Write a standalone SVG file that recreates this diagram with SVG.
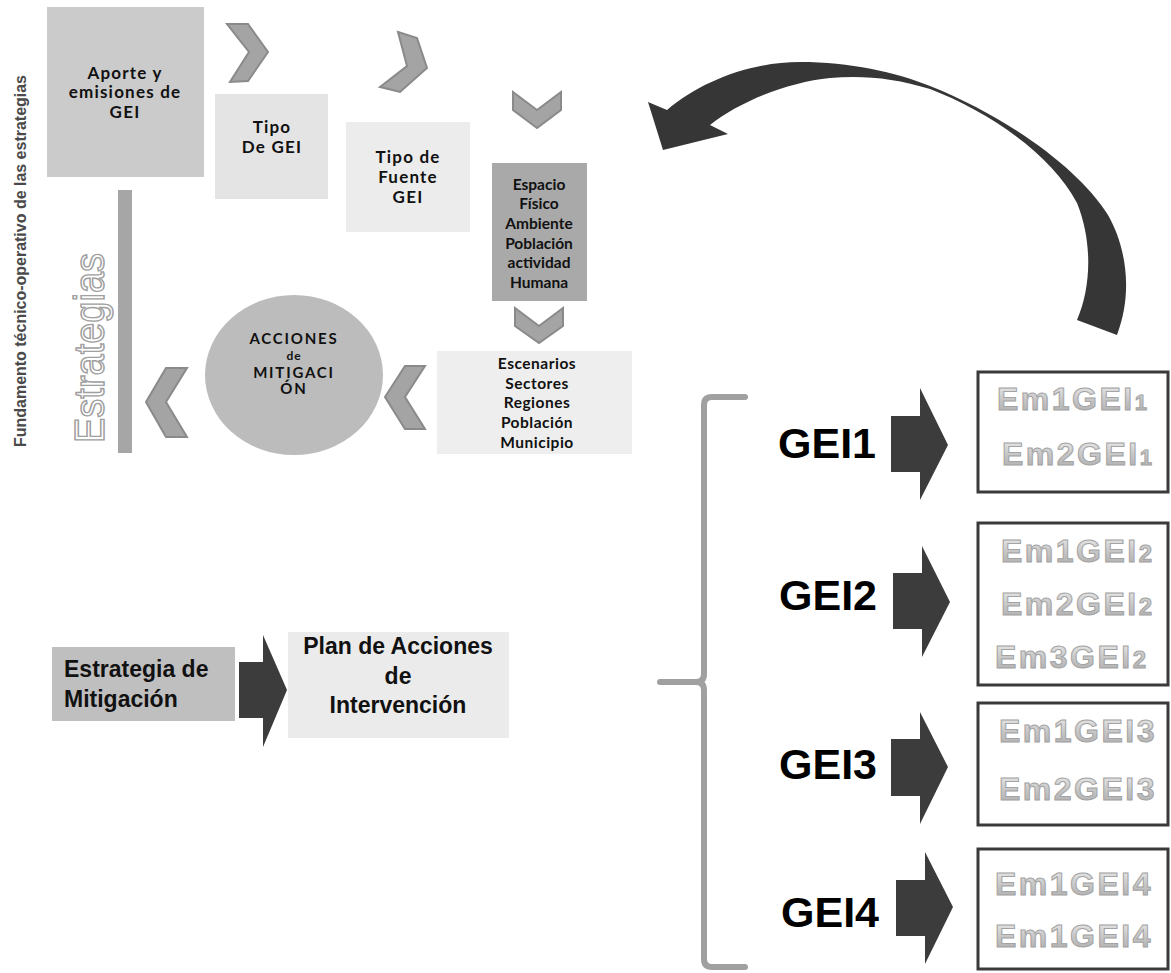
<svg xmlns="http://www.w3.org/2000/svg" width="1171" height="973" viewBox="0 0 1171 973">
<style>
.hum{font-family:Lato,"Open Sans","DejaVu Sans",sans-serif;font-weight:700;fill:#111;text-anchor:middle}
.ari{font-family:"Liberation Sans",Arial,sans-serif;font-weight:700}
.em{font-family:"Liberation Sans",Arial,sans-serif;font-weight:700;font-size:32px;letter-spacing:2.5px;fill:url(#gt);stroke:#a3a3a3;stroke-width:1}
.gei{font-family:"Liberation Sans",Arial,sans-serif;font-weight:700;font-size:43px;fill:#000}
.chev{fill:#a4a4a4;stroke:#8a8a8a;stroke-width:2;stroke-linejoin:miter}
.dark{fill:#3c3c3c}
.ebox{fill:#fff;stroke:#3a3a3a;stroke-width:3}
</style>
<defs>
<linearGradient id="gt" x1="0" y1="0" x2="0" y2="1">
<stop offset="0" stop-color="#f2f2f2"/>
<stop offset="0.5" stop-color="#c8c8c8"/>
<stop offset="1" stop-color="#a8a8a8"/>
</linearGradient>
</defs>
<rect width="1171" height="973" fill="#fff"/>

<g id="side-title">
<text class="ari" transform="translate(26,261) rotate(-90)" text-anchor="middle" font-size="16" fill="#4a4a4a" textLength="372" lengthAdjust="spacingAndGlyphs">Fundamento técnico-operativo de las estrategias</text>
</g>

<g id="estrategias-bar">
<rect x="118" y="190" width="14" height="263" fill="#a6a6a6"/>
<text transform="translate(104,348) rotate(-90)" text-anchor="middle" font-family="'Liberation Sans',Arial,sans-serif" font-size="43" fill="#fff" stroke="#a0a0a0" stroke-width="1.5" textLength="190" lengthAdjust="spacingAndGlyphs">Estrategias</text>
</g>

<g id="aporte">
<rect x="47" y="7" width="157" height="170" fill="#cbcbcb"/>
<text class="hum" font-size="17" letter-spacing="1.2"><tspan x="125" y="79">Aporte y</tspan><tspan x="125" y="98">emisiones de</tspan><tspan x="125" y="118">GEI</tspan></text>
</g>

<g id="tipo-gei">
<rect x="215" y="94" width="113" height="105" fill="#e4e4e4"/>
<text class="hum" font-size="17" letter-spacing="1.2"><tspan x="272" y="133">Tipo</tspan><tspan x="272" y="153">De GEI</tspan></text>
</g>

<g id="tipo-fuente">
<rect x="346" y="122" width="124" height="110" fill="#ececec"/>
<text class="hum" font-size="17" letter-spacing="1.2"><tspan x="408" y="163">Tipo de</tspan><tspan x="408" y="183">Fuente</tspan><tspan x="408" y="203">GEI</tspan></text>
</g>

<g id="espacio">
<rect x="492" y="163" width="95" height="138" fill="#a9a9a9"/>
<text class="hum" font-size="15.5"><tspan x="539" y="190">Espacio</tspan><tspan x="539" y="209">Físico</tspan><tspan x="539" y="229">Ambiente</tspan><tspan x="539" y="249">Población</tspan><tspan x="539" y="268">actividad</tspan><tspan x="539" y="288">Humana</tspan></text>
</g>

<g id="escenarios">
<rect x="437" y="351" width="195" height="103" fill="#eeeeee"/>
<text class="hum" font-size="15.5" letter-spacing="0.5"><tspan x="537" y="369">Escenarios</tspan><tspan x="537" y="389">Sectores</tspan><tspan x="537" y="408">Regiones</tspan><tspan x="537" y="428">Población</tspan><tspan x="537" y="448">Municipio</tspan></text>
</g>

<g id="acciones">
<ellipse cx="294" cy="375" rx="89" ry="80" fill="#bcbcbc"/>
<text class="hum" fill="#222"><tspan x="294" y="344" font-size="15" letter-spacing="1.8">ACCIONES</tspan><tspan x="294" y="360" font-size="12" letter-spacing="1">de</tspan><tspan x="294" y="378" font-size="15" letter-spacing="1.8">MITIGACI</tspan><tspan x="294" y="394" font-size="15" letter-spacing="1.8">ÓN</tspan></text>
</g>

<g id="estrategia-mitigacion">
<rect x="52" y="647" width="183" height="74" fill="#bfbfbf"/>
<text class="ari" font-size="23" fill="#111"><tspan x="64" y="677">Estrategia de</tspan><tspan x="64" y="707">Mitigación</tspan></text>
</g>

<g id="plan">
<rect x="288" y="632" width="221" height="106" fill="#ebebeb"/>
<text class="ari" font-size="23" fill="#111" text-anchor="middle"><tspan x="398" y="654">Plan de Acciones</tspan><tspan x="398" y="684">de</tspan><tspan x="398" y="713">Intervención</tspan></text>
</g>

<g id="gei1">
<text class="gei" x="778" y="458">GEI1</text>
<rect class="ebox" x="978" y="372" width="190" height="120"/>
<text class="em" x="997" y="410">Em1GEI<tspan font-size="22">1</tspan></text>
<text class="em" x="1002" y="465">Em2GEI<tspan font-size="22">1</tspan></text>
</g>

<g id="gei2">
<text class="gei" x="779" y="610">GEI2</text>
<rect class="ebox" x="978" y="523" width="190" height="162"/>
<text class="em" x="1001" y="562">Em1GEI<tspan font-size="24">2</tspan></text>
<text class="em" x="1001" y="615">Em2GEI<tspan font-size="24">2</tspan></text>
<text class="em" x="995" y="668">Em3GEI<tspan font-size="24">2</tspan></text>
</g>

<g id="gei3">
<text class="gei" x="779" y="779">GEI3</text>
<rect class="ebox" x="978" y="703" width="190" height="122"/>
<text class="em" x="999" y="742">Em1GEI3</text>
<text class="em" x="999" y="800">Em2GEI3</text>
</g>

<g id="gei4">
<text class="gei" x="781" y="927">GEI4</text>
<rect class="ebox" x="978" y="849" width="190" height="120"/>
<text class="em" x="995" y="895">Em1GEI4</text>
<text class="em" x="995" y="947">Em1GEI4</text>
</g>

<g id="connectors">
<polygon class="chev" points="227,24 248,24 268,52 248,81 230,82 249,52"/>
<polygon class="chev" points="398,32 417,38 427,68 400,92 380,87 407,66"/>
<polygon class="chev" points="513,92 537,110 561,92 561,110 537,128 513,110"/>
<polygon class="chev" points="515,308 539,326 563,308 563,326 539,343 515,326"/>
<polygon class="chev" points="425,366 405,366 385,397 405,429 425,429 405,397"/>
<polygon class="chev" points="187,368 166,368 146,402 166,437 187,437 166,402"/>
<path d="M663,150 L648,102 L667,110 C700,82 750,62 800,62 C850,62 895,72 930,86 C1010,118 1080,170 1108,215 C1125,245 1134,290 1117,335 L1077,320 C1092,285 1092,240 1077,203 C1050,152 985,110 930,89 C895,78 862,75 830,78 C790,82 742,100 710,125 L728,134 Z" fill="#363636"/>
<path class="dark" d="M239,662 L263,662 L263,635 L287,690 L263,747 L263,718 L239,718 Z"/>
<path class="dark" d="M891,416 L920,416 L920,388 L948,445 L920,500 L920,472 L891,472 Z"/>
<path class="dark" d="M893,573 L922,573 L922,546 L950,602 L922,657 L922,629 L893,629 Z"/>
<path class="dark" d="M891,739 L920,739 L920,712 L948,767 L920,824 L920,796 L891,796 Z"/>
<path class="dark" d="M896,880 L925,880 L925,852 L953,907 L925,964 L925,936 L896,936 Z"/>
<path d="M745,397 L712,397 Q704,397 704,405 L704,674 Q704,682 696,682 L660,682 M696,682 Q704,682 704,690 L704,959 Q704,967 712,967 L745,967" fill="none" stroke="#a0a0a0" stroke-width="6" stroke-linecap="round" stroke-linejoin="round"/>
</g>
</svg>
